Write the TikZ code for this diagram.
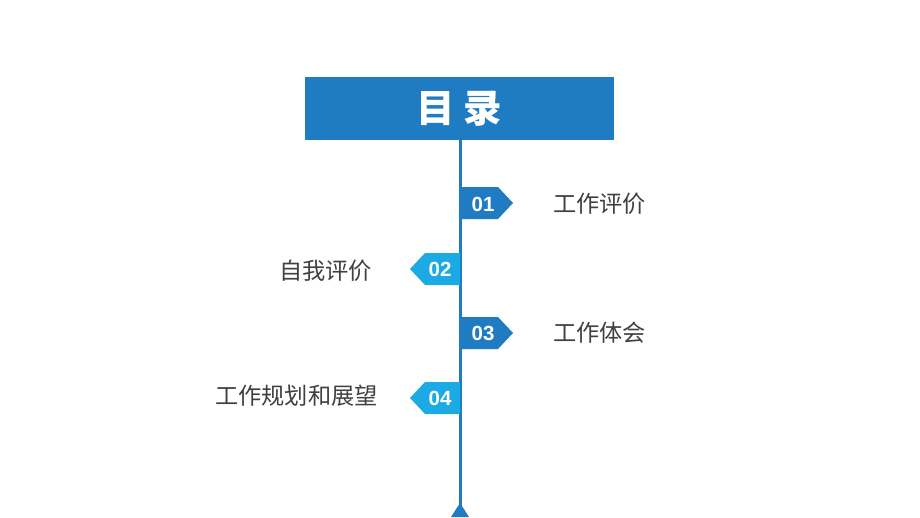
\documentclass[tikz,border=0pt]{standalone}
\usepackage{fontspec}
\setmainfont{Liberation Sans}
\newfontfamily\cjk{Noto Sans CJK SC}
\definecolor{dblue}{HTML}{1F7BC2}
\definecolor{lblue}{HTML}{1BAAE3}
\definecolor{txtgray}{HTML}{404040}
\begin{document}
\begin{tikzpicture}[x=1pt,y=-1pt,
  numtxt/.style={text=white,font=\fontsize{20.5}{20}\selectfont\bfseries,inner sep=0pt},
  itemtxt/.style={text=txtgray,font=\cjk\fontsize{23.2}{24}\selectfont,inner sep=0pt},
  spine/.style={draw=dblue,line width=3pt}]
\useasboundingbox[fill=white] (0,0) rectangle (920,517);
% title
\node[fill=dblue,minimum width=309pt,minimum height=63pt,inner sep=0pt,
      text=white,font=\cjk\bfseries\fontsize{38.5}{38}\selectfont] (title) at (459.5,108.5) {目\hspace{9pt}录};
% spine
\coordinate (bottom) at (460,506);
\draw[spine] (title.south -| bottom) -- (bottom);
\fill[dblue] (460,503) -- (469,517) -- (451,517) -- cycle;
% tags
\fill[dblue] (461,187) -- (498,187) -- (513,203) -- (498,219) -- (461,219) -- cycle;
\node[numtxt] (n1) at (483,204) {01};
\fill[lblue] (460,253) -- (425,253) -- (410,269) -- (425,285) -- (460,285) -- cycle;
\node[numtxt] (n2) at (440,269) {02};
\fill[dblue] (461,317) -- (498,317) -- (513,333) -- (498,349) -- (461,349) -- cycle;
\node[numtxt] (n3) at (483,333) {03};
\fill[lblue] (460,382) -- (425,382) -- (410,398) -- (425,414) -- (460,414) -- cycle;
\node[numtxt] (n4) at (440,398) {04};
% labels
\node[itemtxt,anchor=west] (t1) at (553,204) {工作评价};
\node[itemtxt,anchor=west] (t2) at (279,271) {自我评价};
\node[itemtxt,anchor=west] (t3) at (553,333) {工作体会};
\node[itemtxt,anchor=west] (t4) at (215,396) {工作规划和展望};
\end{tikzpicture}
\end{document}
